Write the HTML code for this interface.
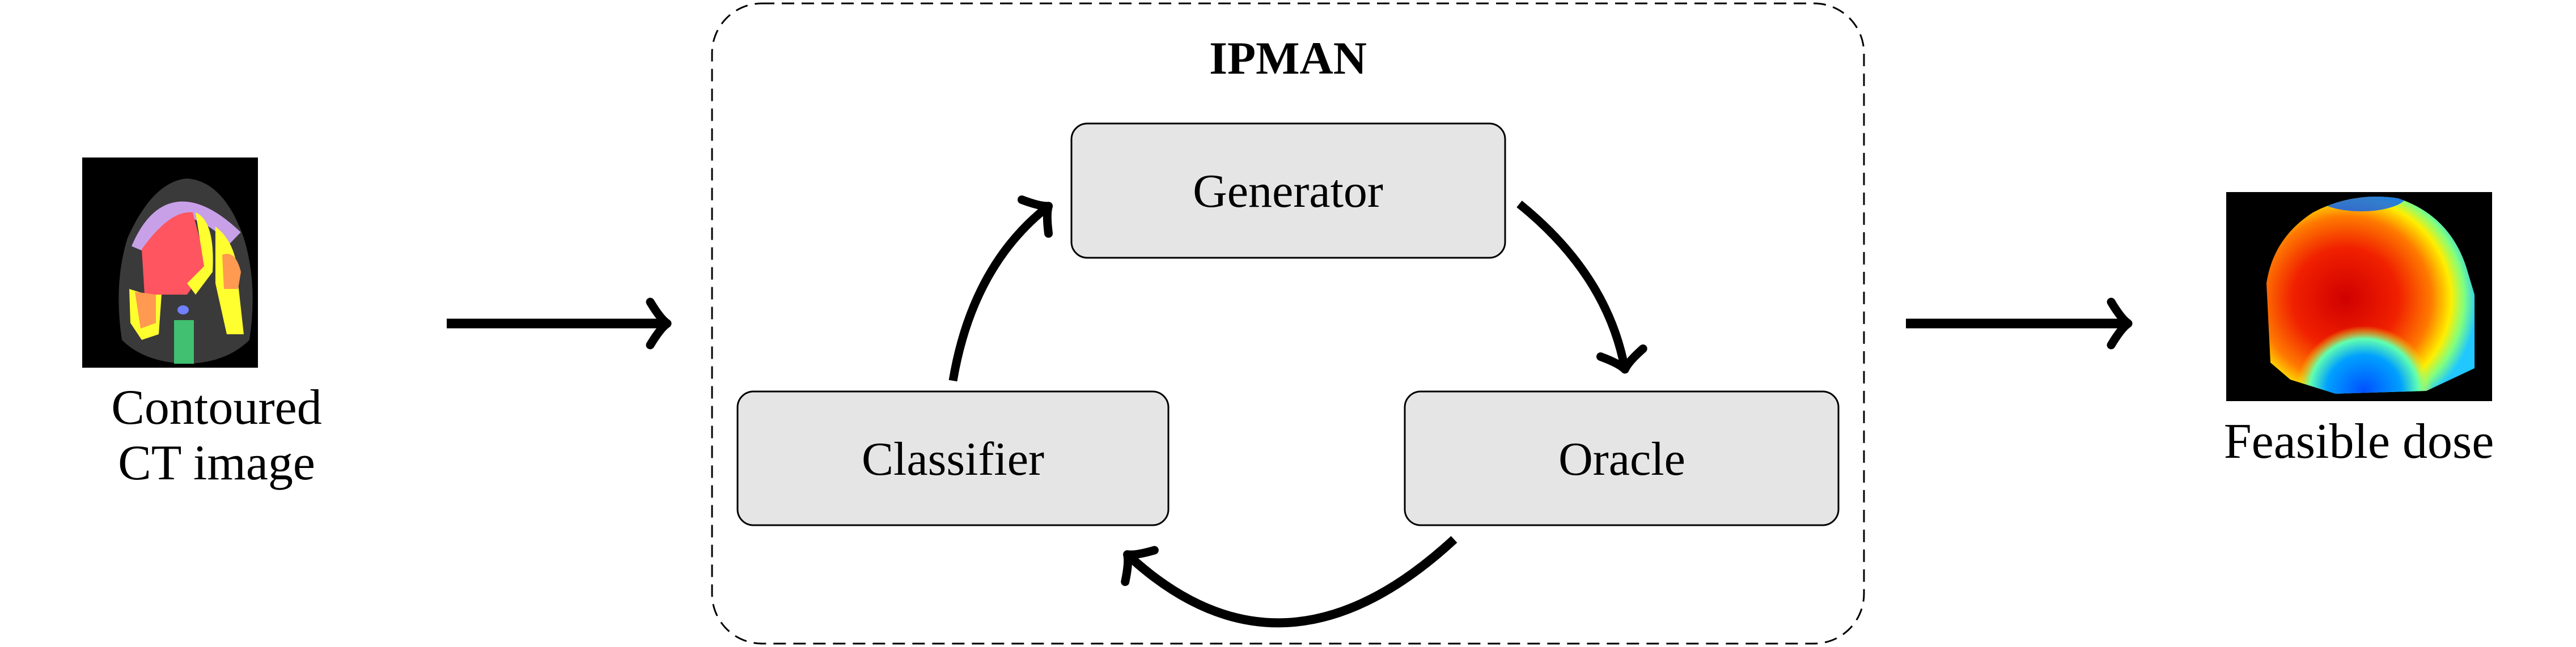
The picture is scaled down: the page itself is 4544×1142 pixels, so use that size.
<!DOCTYPE html>
<html><head><meta charset="utf-8"><style>
html,body{margin:0;padding:0;background:#fff;}
svg{display:block;}
text{font-family:"Liberation Serif",serif;fill:#000;}
</style></head><body>
<svg width="4544" height="1142" viewBox="0 0 4544 1142" xmlns="http://www.w3.org/2000/svg">
<defs>
<marker id="to" markerUnits="userSpaceOnUse" markerWidth="80" markerHeight="100" refX="40" refY="50" orient="auto" viewBox="0 0 80 100" overflow="visible">
<path d="M12,12 Q30,42 42,50 Q30,58 12,88" fill="none" stroke="#000" stroke-width="15" stroke-linecap="round" stroke-linejoin="round"/>
</marker>
<radialGradient id="dose" cx="0.38" cy="0.52" r="0.62">
<stop offset="0" stop-color="#d00000"/>
<stop offset="0.4" stop-color="#f02000"/>
<stop offset="0.65" stop-color="#ff7a00"/>
<stop offset="0.8" stop-color="#ffee00"/>
<stop offset="0.9" stop-color="#80ff80"/>
<stop offset="1" stop-color="#20c8ff"/>
</radialGradient>
<radialGradient id="blue" cx="0.5" cy="0.5" r="0.5">
<stop offset="0" stop-color="#0050ff"/>
<stop offset="0.55" stop-color="#00a0ff"/>
<stop offset="0.8" stop-color="#60ffb0"/>
<stop offset="1" stop-color="#ffee00" stop-opacity="0"/>
</radialGradient>
<clipPath id="headclip"><path d="M4005,640 L3998,500 Q4010,420 4080,375 Q4150,338 4230,350 Q4320,380 4350,470 L4365,520 L4365,650 L4280,690 L4120,695 L4040,670 Z"/></clipPath>
</defs>

<!-- CT image -->
<rect x="145" y="278" width="310" height="371" fill="#000"/>
<path d="M215,600 Q200,500 225,420 Q270,320 330,315 Q395,320 430,420 Q455,500 440,600 Q400,640 330,642 Q255,640 215,600 Z" fill="#3a3a3a"/>
<path d="M245,440 Q300,310 415,420" fill="none" stroke="#c8a0e8" stroke-width="28"/>
<path d="M250,440 Q300,370 340,375 L365,470 L330,520 L255,520 Z" fill="#ff5560"/>
<path d="M345,375 Q380,390 375,480 L345,520 L330,500 L360,470 Z" fill="#ffff30"/>
<path d="M380,400 Q420,430 420,500 L430,590 L400,590 L380,500 Z" fill="#ffff30"/>
<path d="M392,450 Q415,440 425,480 L420,510 L395,510 Z" fill="#ff9a50"/>
<path d="M228,510 L260,520 L285,520 L280,590 L250,600 L230,570 Z" fill="#ffff30"/>
<path d="M238,515 L275,520 L275,570 L248,580 Z" fill="#ff9a50"/>
<rect x="307" y="565" width="35" height="77" fill="#40c070"/>
<ellipse cx="323" cy="547" rx="10" ry="8" fill="#7080ff"/>
<text x="382" y="748" font-size="88" text-anchor="middle">Contoured</text>
<text x="382" y="846" font-size="88" text-anchor="middle">CT image</text>

<!-- arrow 1 -->
<path d="M788,571 H1175" stroke="#000" stroke-width="17" fill="none" marker-end="url(#to)"/>

<!-- dashed container -->
<rect x="1256" y="6" width="2032" height="1130" rx="88" ry="88" fill="none" stroke="#000" stroke-width="3" stroke-dasharray="22 13"/>
<text x="2272" y="130" font-size="82" font-weight="bold" text-anchor="middle">IPMAN</text>

<!-- boxes -->
<rect x="1890" y="218" width="765" height="237" rx="28" fill="#e5e5e5" stroke="#000" stroke-width="3"/>
<text x="2272" y="365" font-size="84" text-anchor="middle">Generator</text>
<rect x="1301" y="691" width="760" height="236" rx="28" fill="#e5e5e5" stroke="#000" stroke-width="3"/>
<text x="1681" y="838" font-size="84" text-anchor="middle">Classifier</text>
<rect x="2478" y="691" width="765" height="236" rx="28" fill="#e5e5e5" stroke="#000" stroke-width="3"/>
<text x="2861" y="838" font-size="84" text-anchor="middle">Oracle</text>

<!-- cycle arrows -->
<path d="M1681,672 Q1715,470 1848,365" fill="none" stroke="#000" stroke-width="15" marker-end="url(#to)"/>
<path d="M2680,360 Q2835,485 2866,650" fill="none" stroke="#000" stroke-width="15" marker-end="url(#to)"/>
<path d="M2565,952 Q2262,1232 1990,980" fill="none" stroke="#000" stroke-width="16" marker-end="url(#to)"/>

<!-- arrow 2 -->
<path d="M3362,571 H3752" stroke="#000" stroke-width="17" fill="none" marker-end="url(#to)"/>

<!-- dose image -->
<rect x="3927" y="339" width="469" height="369" fill="#000"/>
<g clip-path="url(#headclip)">
<rect x="3995" y="340" width="375" height="360" fill="url(#dose)"/>
<ellipse cx="4170" cy="690" rx="120" ry="115" fill="url(#blue)"/>
<ellipse cx="4165" cy="345" rx="80" ry="28" fill="#0060ff" opacity="0.8"/>
</g>
<text x="4161" y="808" font-size="88" text-anchor="middle">Feasible dose</text>
</svg>
</body></html>
